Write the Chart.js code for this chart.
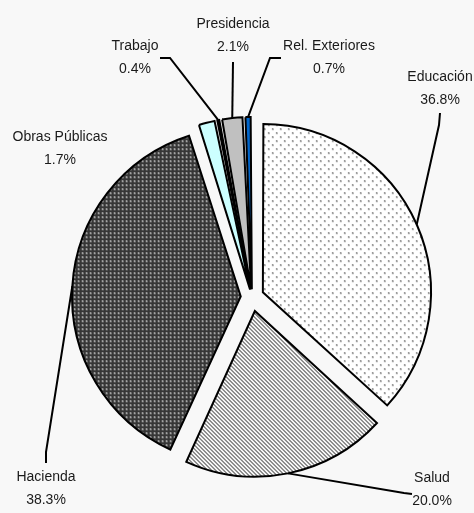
<!DOCTYPE html>
<html>
<head>
<meta charset="utf-8">
<script src="https://cdn.jsdelivr.net/npm/chart.js@4.4.0/dist/chart.umd.min.js"></script>
<style>
  body { margin: 0; background: #f8f8f8; }
  #wrap { width: 474px; height: 513px; position: relative; }
</style>
</head>
<body>
<div id="wrap"><canvas id="pieChart"></canvas></div>
<script>
const categories = ['Educación', 'Salud', 'Hacienda', 'Obras Públicas', 'Trabajo', 'Presidencia', 'Rel. Exteriores'];
const shares = [36.8, 20.0, 38.3, 1.7, 0.4, 2.1, 0.7];

// where each label sits and the bend points of its leader line
const labelLayout = [
    { x: 440, y: 77, line: [[439, 125], [440, 113]] },
    { x: 432, y: 478, line: [[404, 493], [412, 494]] },
    { x: 46, y: 477, line: [[46, 452], [46, 463]] },
    { x: 60, y: 137, line: null },
    { x: 135, y: 46, line: [[170, 58], [160, 58]] },
    { x: 233, y: 24, line: [[233, 62]] },
    { x: 329, y: 46, line: [[270, 58], [281, 58]] }
];

const explode = 15; // px every slice is pulled out

// Chart.js v4 moves an arc by offset/4 * (1 + fix), fix = 1 - sin(circumference)
function arcFix(circ) {
    return 1 - Math.sin(Math.min(Math.PI, circ));
}
function sliceOffset(c) {
    const total = shares.reduce((a, b) => a + b, 0);
    const circ = shares[c.dataIndex] / total * Math.PI * 2;
    return explode * 4 / (1 + arcFix(circ));
}

function makePattern(size, draw) {
    const c = document.createElement('canvas');
    c.width = size; c.height = size;
    draw(c.getContext('2d'));
    return document.createElement('canvas').getContext('2d').createPattern(c, 'repeat');
}

const dotsLight = makePattern(8, g => {
    g.fillStyle = '#ffffff'; g.fillRect(0, 0, 8, 8);
    g.fillStyle = '#b0b0b0';
    g.fillRect(1, 1, 2, 2); g.fillRect(5, 5, 2, 2);
    g.fillStyle = '#707070';
    g.fillRect(1, 1, 1, 1); g.fillRect(5, 5, 1, 1);
});
const stripes = makePattern(4, g => {
    for (let x = 0; x < 4; x++) {
        for (let y = 0; y < 4; y++) {
            g.fillStyle = ((x - y + 4) % 4) < 2 ? '#858585' : '#ffffff';
            g.fillRect(x, y, 1, 1);
        }
    }
});
const dotsDark = makePattern(4, g => {
    g.fillStyle = '#363636'; g.fillRect(0, 0, 4, 4);
    g.fillStyle = '#8a8a8a'; g.fillRect(1, 1, 2, 2);
    g.fillStyle = '#e6e6e6'; g.fillRect(1, 1, 1, 1);
});

const sliceColors = [dotsLight, stripes, dotsDark, '#ccffff', '#5a5a5a', '#c0c0c0', '#0066cc'];

const leaderPlugin = {
    id: 'leaders',
    afterDatasetsDraw(chart) {
        const ctx = chart.ctx;
        const meta = chart.getDatasetMeta(0);
        ctx.save();
        ctx.strokeStyle = '#000';
        ctx.lineWidth = 2;
        ctx.fillStyle = '#1a1a1a';
        ctx.font = '14px "Liberation Sans", Arial, sans-serif';
        ctx.textAlign = 'center';
        ctx.textBaseline = 'middle';
        meta.data.forEach((arc, i) => {
            const p = arc.getProps(['x', 'y', 'startAngle', 'endAngle', 'outerRadius', 'circumference'], true);
            const mid = (p.startAngle + p.endAngle) / 2;
            const shift = arc.options.offset / 4 * (1 + arcFix(p.circumference));
            const r = p.outerRadius + shift;
            const lay = labelLayout[i];
            if (lay.line) {
                ctx.beginPath();
                ctx.moveTo(p.x + Math.cos(mid) * r, p.y + Math.sin(mid) * r);
                lay.line.forEach(pt => ctx.lineTo(pt[0], pt[1]));
                ctx.stroke();
            }
            ctx.fillText(categories[i], lay.x, lay.y);
            ctx.fillText(shares[i].toFixed(1) + '%', lay.x, lay.y + 23);
        });
        ctx.restore();
    }
};

const ctx = document.getElementById('pieChart').getContext('2d');
const chart = new Chart(ctx, {
    type: 'pie',
    data: {
        labels: categories,
        datasets: [{
            data: shares,
            backgroundColor: sliceColors,
            borderColor: '#000',
            borderWidth: 2,
            borderJoinStyle: 'miter',
            offset: sliceOffset
        }]
    },
    options: {
        responsive: true,
        maintainAspectRatio: false,
        animation: false,
        radius: 165,
        layout: { padding: { left: 30, right: 0, top: 81, bottom: 0 } },
        plugins: {
            legend: { display: false },
            tooltip: { enabled: false }
        }
    },
    plugins: [leaderPlugin]
});
</script>
</body>
</html>
